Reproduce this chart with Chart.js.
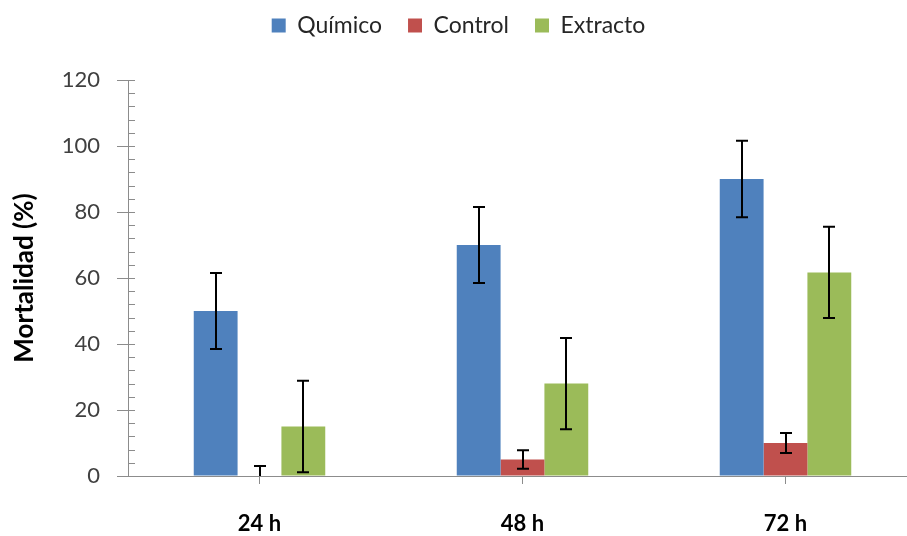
<!DOCTYPE html>
<html><head><meta charset="utf-8">
<script src="https://cdn.jsdelivr.net/npm/chart.js@4.4.0/dist/chart.umd.min.js"></script>
<style>html,body{margin:0;padding:0;overflow:hidden;background:#fff;}#wrap{width:924px;height:536px;}</style>
</head><body><div id="wrap"><canvas id="c" width="924" height="536"></canvas></div>
<script>
const categories = ['24 h', '48 h', '72 h'];
const seriesNames = ['Químico', 'Control', 'Extracto'];
const quimico = [50, 70, 90];
const control = [0, 5, 10];
const extracto = [15, 28, 61.7];
const quimicoErr = [11.5, 11.5, 11.6];
const controlErr = [3, 2.8, 3];
const extractoErr = [13.9, 13.8, 13.8];
const yMin = 0, yMax = 120, yStep = 20, yMinorStep = 4;

const colors = ['#4F81BD', '#C0504D', '#9BBB59'];
const axisColor = '#8c8c8c';
const FONT = 'Lato';
const errs = [quimicoErr, controlErr, extractoErr];

const legendMargin = {
  id: 'legendMargin',
  beforeInit(chart) {
    const fit = chart.legend.fit;
    chart.legend.fit = function () { fit.call(this); this.height += 33; };
  }
};

const yMinor = {
  id: 'yMinor',
  afterDatasetsDraw(chart) {
    const { ctx, scales: { y }, chartArea } = chart;
    ctx.save();
    ctx.strokeStyle = axisColor; ctx.lineWidth = 1;
    ctx.beginPath();
    for (let v = yMin; v <= yMax; v += yMinorStep) {
      const py = Math.round(y.getPixelForValue(v)) + 0.5;
      ctx.moveTo(chartArea.left, py); ctx.lineTo(chartArea.left + 7, py);
    }
    ctx.stroke();
    ctx.restore();
  }
};

const errorBars = {
  id: 'errorBars',
  afterDatasetsDraw(chart) {
    const { ctx, scales: { y } } = chart;
    ctx.save();
    ctx.strokeStyle = '#000'; ctx.lineWidth = 2;
    chart.data.datasets.forEach((ds, i) => {
      const meta = chart.getDatasetMeta(i);
      meta.data.forEach((bar, j) => {
        const v = ds.data[j], e = errs[i][j];
        const x = Math.round(bar.x);
        const yT = y.getPixelForValue(v + e);
        const low = v - e;
        const yB = y.getPixelForValue(Math.max(low, yMin));
        ctx.beginPath();
        ctx.moveTo(x, yT); ctx.lineTo(x, yB);
        ctx.moveTo(x - 6, yT); ctx.lineTo(x + 6, yT);
        if (low >= yMin) { ctx.moveTo(x - 6, yB); ctx.lineTo(x + 6, yB); }
        ctx.stroke();
      });
    });
    ctx.restore();
  }
};

const seriesData = [quimico, control, extracto];

new Chart(document.getElementById('c'), {
  type: 'bar',
  data: {
    labels: categories,
    datasets: seriesNames.map((n, i) => ({
      label: n,
      data: seriesData[i],
      backgroundColor: colors[i],
      borderWidth: 0,
      categoryPercentage: 0.5,
      barPercentage: 1
    }))
  },
  options: {
    responsive: false,
    animation: false,
    layout: { padding: { top: -12, right: 7, left: 0, bottom: 0 } },
    plugins: {
      legend: {
        position: 'top',
        labels: {
          boxWidth: 14, boxHeight: 14, padding: 26,
          color: '#262626',
          font: { family: FONT, size: 23 }
        }
      },
      tooltip: { enabled: false }
    },
    scales: {
      x: {
        afterFit(s) { s.height = 60; },
        grid: { offset: false, drawOnChartArea: false, drawTicks: true, tickLength: 8, color: axisColor },
        border: { display: true, color: axisColor, width: 1 },
        ticks: { color: '#000', padding: 27, font: { family: FONT, size: 22, weight: 'bold' } }
      },
      y: {
        min: yMin, max: yMax,
        afterFit(s) { s.width = 128; },
        grid: { drawOnChartArea: false, drawTicks: true, tickLength: 11, color: axisColor },
        border: { display: true, color: axisColor, width: 1 },
        ticks: { stepSize: yStep, color: '#404040', padding: 17, font: { family: FONT, size: 22 } },
        title: {
          display: true, text: 'Mortalidad (%)', color: '#000',
          padding: { top: 9, bottom: 0 },
          font: { family: FONT, size: 26, weight: 'bold' }
        }
      }
    }
  },
  plugins: [legendMargin, yMinor, errorBars]
});
</script></body></html>
